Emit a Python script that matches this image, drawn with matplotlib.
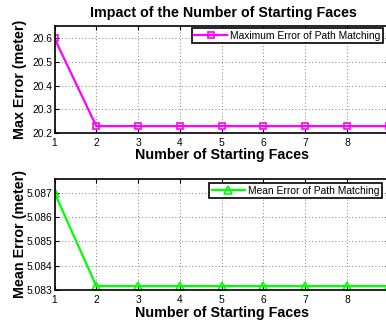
import matplotlib.pyplot as plt

plt.rcParams['font.family'] = ['Liberation Sans', 'DejaVu Sans']

# number of starting faces and the two error series
faces = [1, 2, 3, 4, 5, 6, 7, 8, 9]
max_error = [20.6, 20.229, 20.229, 20.229, 20.229, 20.229, 20.229, 20.229, 20.229]
mean_error = [5.087, 5.08316, 5.08316, 5.08316, 5.08316, 5.08316, 5.08316, 5.08316, 5.08316]

max_ticks = [20.2, 20.3, 20.4, 20.5, 20.6]
mean_ticks = [5.083, 5.084, 5.085, 5.086, 5.087]
face_ticks = [1, 2, 3, 4, 5, 6, 7, 8]

W, H = 386, 322
fig = plt.figure(figsize=(W / 100, H / 100), dpi=100)

x0 = 54.5
unit = 41.8
ax_w = (faces[-1] - faces[0]) * unit


def make_axes(top, bottom):
    ax = fig.add_axes([x0 / W, 1 - bottom / H, ax_w / W, (bottom - top) / H])
    for s in ax.spines.values():
        s.set_linewidth(1.2)
    ax.tick_params(direction='in', top=True, right=True, length=3, width=0.8,
                   labelsize=7.4, colors='black')
    ax.tick_params(axis='x', pad=3.8)
    ax.tick_params(axis='y', pad=1.5)
    ax.grid(True, linestyle=(0, (1, 3)), color='#555555', linewidth=0.6)
    ax.set_xlim(faces[0], faces[-1])
    ax.set_xticks(face_ticks)
    return ax


def style_labels(ax, ylabel):
    ax.set_xlabel('Number of Starting Faces', fontsize=10.3, fontweight='bold')
    ax.set_ylabel(ylabel, fontsize=10.3, fontweight='bold')
    ax.xaxis.set_label_coords(0.5, -0.206)
    ax.xaxis.label.set_va('center')
    ax.yaxis.set_label_coords(-0.103, 0.5)
    ax.yaxis.label.set_va('center')


def add_legend(ax, right, top):
    leg = ax.legend(loc='upper right', bbox_to_anchor=(right / W, 1 - top / H),
                    bbox_transform=fig.transFigure, borderaxespad=0,
                    fontsize=7.4, fancybox=False, framealpha=1, edgecolor='black',
                    handlelength=3.2, handletextpad=0.3, borderpad=0.25,
                    numpoints=1)
    leg.get_frame().set_linewidth(1.2)


# top panel: maximum error
ax1 = make_axes(26, 133)
ax1.plot(faces, max_error, color='#ff00ff', linewidth=1.6, marker='s',
         markersize=5, markerfacecolor='none', markeredgewidth=1.2,
         label='Maximum Error of Path Matching')
ax1.set_ylim(20.2, 20.652)
ax1.set_yticks(max_ticks)
ax1.set_yticklabels([f'{v:.1f}' for v in max_ticks])
style_labels(ax1, 'Max Error (meter)')
add_legend(ax1, 383, 28)

# bottom panel: mean error
ax2 = make_axes(179, 290)
ax2.plot(faces, mean_error, color='#00ff00', linewidth=1.6, marker='^',
         markersize=6, markerfacecolor='none', markeredgewidth=1.2,
         label='Mean Error of Path Matching')
ax2.set_ylim(5.083, 5.08756)
ax2.set_yticks(mean_ticks)
ax2.set_yticklabels([f'{v:.3f}' for v in mean_ticks])
style_labels(ax2, 'Mean Error (meter)')
add_legend(ax2, 382, 183)

fig.text(223.5 / W, 1 - 13 / H, 'Impact of the Number of Starting Faces',
         ha='center', va='center', fontsize=10.3, fontweight='bold')

fig.savefig('out.png', dpi=100)
